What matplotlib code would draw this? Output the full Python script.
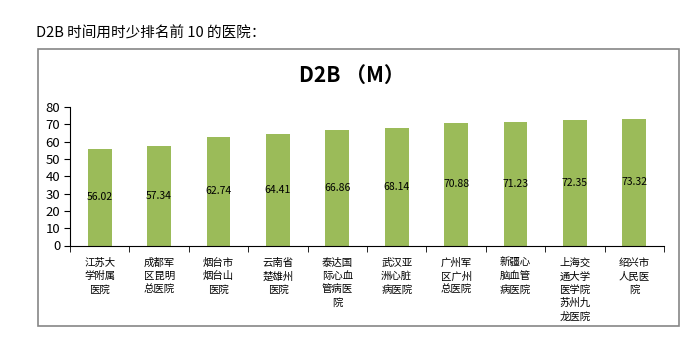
import numpy as np
import matplotlib.pyplot as plt
from matplotlib.patches import Rectangle

plt.rcParams['font.family'] = ['Noto Sans CJK SC', 'DejaVu Sans']

hospitals = ['江苏大学附属医院', '成都军区昆明总医院', '烟台市烟台山医院', '云南省楚雄州医院',
             '泰达国际心血管病医院', '武汉亚洲心脏病医院', '广州军区广州总医院',
             '新疆心脑血管病医院', '上海交通大学医学院苏州九龙医院', '绍兴市人民医院']
d2b = [56.02, 57.34, 62.74, 64.41, 66.86, 68.14, 70.88, 71.23, 72.35, 73.32]


def wrap(s, n=3):
    return '\n'.join(s[i:i + n] for i in range(0, len(s), n))


fig = plt.figure(figsize=(6.94, 3.53), dpi=100)
W, H = 694, 353

fig.text(36 / W, 1 - 33 / H, 'D2B 时间用时少排名前 10 的医院：', fontsize=10.5,
         va='center', ha='left')
# chart area border
fig.patches.append(Rectangle((38 / W, 1 - 326 / H), (679 - 38) / W, (326 - 49) / H,
                             transform=fig.transFigure, fill=False,
                             edgecolor='#868686', linewidth=1.2))

ax = fig.add_axes([70 / W, 1 - 245.5 / H, (664 - 70) / W, (245.5 - 107) / H])
x = np.arange(len(d2b))
ax.bar(x, d2b, width=0.4, color='#9BBB59')
for xi, v in zip(x, d2b):
    ax.text(xi, v / 2, f'{v:.2f}', ha='center', va='center', fontsize=7.5)

ax.set_xlim(-0.5, len(d2b) - 0.5)
ax.set_ylim(0, 80)
ax.set_yticks(range(0, 81, 10))
ax.set_xticks(x)
ax.set_xticklabels([wrap(h) for h in hospitals], fontsize=7.5, linespacing=1.4)
ax.tick_params(axis='x', length=0, pad=9)
ax.set_xticks(np.arange(-0.5, len(d2b), 1), minor=True)
ax.tick_params(axis='x', which='minor', length=4, direction='out', color='black')
ax.tick_params(axis='y', labelsize=9.5, length=4, direction='out', pad=3)
for s in ['top', 'right']:
    ax.spines[s].set_visible(False)
ax.spines['left'].set_color('black')
ax.spines['bottom'].set_color('black')

fig.text(352 / W, 1 - 75 / H, 'D2B （M）', fontsize=15, fontweight='bold',
         ha='center', va='center')

fig.savefig('out.png', dpi=100)
